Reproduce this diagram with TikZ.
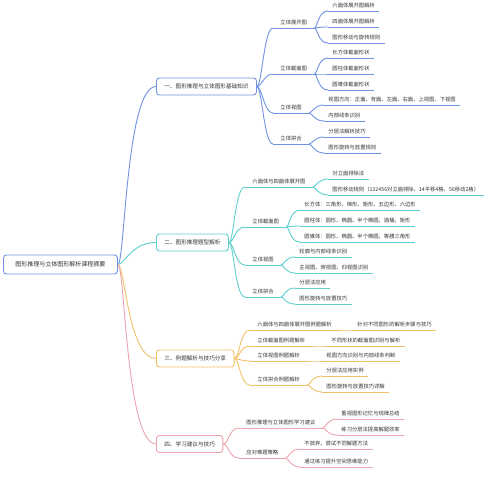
\documentclass[tikz,border=0pt]{standalone}
\usepackage{fontspec}
\setmainfont{Noto Sans CJK SC}
\definecolor{cb}{HTML}{6F93E2}
\definecolor{ct}{HTML}{5CCFCE}
\definecolor{co}{HTML}{F2C065}
\definecolor{cp}{HTML}{EDA3AD}
\definecolor{tx}{HTML}{333333}
\newcommand\mmlink[5]{\draw[#1] (#2) .. controls +(#4,0) and +(-#5,0) .. (#3);}
\begin{document}
\begin{tikzpicture}[x=1pt,y=-1pt,line width=0.9pt,
 rootbox/.style={draw=cb,rounded corners=3pt,fill=white,text=tx,font=\fontsize{6}{7}\selectfont,minimum height=19pt,inner xsep=12pt,inner ysep=0pt},
 secbox/.style={draw=#1,rounded corners=3pt,fill=white,text=tx,font=\fontsize{5.6}{6.5}\selectfont,minimum height=17pt,inner xsep=8pt,inner ysep=0pt},
 kid/.style={anchor=south west,text=tx,font=\fontsize{5.3}{6}\selectfont,inner xsep=7pt,inner ysep=2.2pt},
 gkid/.style={kid,inner xsep=4pt}]
\fill[white] (0,0) rectangle (489,500);
\useasboundingbox (0,0) rectangle (489,500);

% root and sections
\node[rootbox,anchor=west] (root) at (3,264.5) {图形推理与立体图形解析课程摘要};
\node[secbox=cb,anchor=west] (s1) at (156,86.5) {一、图形推理与立体图形基础知识};
\node[secbox=ct,anchor=west] (s2) at (156,242.5) {二、图形推理题型解析};
\node[secbox=co,anchor=west] (s3) at (156,358.5) {三、例题解析与技巧分享};
\node[secbox=cp,anchor=west] (s4) at (156,444) {四、学习建议与技巧};

% section 1
\node[kid] (c11) at (273,28) {立体展开图};
\node[kid] (c12) at (273,74) {立体截面图};
\node[kid] (c13) at (273,113) {立体视图};
\node[kid] (c14) at (273,144) {立体拼合};
\node[gkid] (g111) at (328,11) {六面体展开图解析};
\node[gkid] (g112) at (328,27) {四面体展开图解析};
\node[gkid] (g113) at (328,43) {图形移动与旋转规则};
\node[gkid] (g121) at (328,58) {长方体截面形状};
\node[gkid] (g122) at (328,74) {圆柱体截面形状};
\node[gkid] (g123) at (328,90) {圆锥体截面形状};
\node[gkid] (g131) at (324,105) {视图方向：正面、背面、左面、右面、上视图、下视图};
\node[gkid] (g132) at (324,121) {内部线条识别};
\node[gkid] (g141) at (324,137) {分层法解析技巧};
\node[gkid] (g142) at (324,153) {图形旋转与放置规则};

% section 2
\node[kid] (c21) at (245,187) {六面体与四面体展开图};
\node[kid] (c22) at (245,227) {立体截面图};
\node[kid] (c23) at (245,265) {立体视图};
\node[kid] (c24) at (245,297) {立体拼合};
\node[gkid] (g211) at (328,179) {对立面排除法};
\node[gkid] (g212) at (328,195) {图形移动规则（132456对立面排除、14平移4格、56移动2格）};
\node[gkid] (g221) at (300,210) {长方体：三角形、梯形、矩形、五边形、六边形};
\node[gkid] (g222) at (300,226) {圆柱体：圆形、椭圆、半个椭圆、酒桶、矩形};
\node[gkid] (g223) at (300,242) {圆锥体：圆形、椭圆、半个椭圆、等腰三角形};
\node[gkid] (g231) at (295,257) {轮廓与内部线条识别};
\node[gkid] (g232) at (295,273) {主视图、俯视图、仰视图识别};
\node[gkid] (g241) at (295,288) {分层法应用};
\node[gkid] (g242) at (295,304) {图形旋转与放置技巧};

% section 3
\node[kid] (c31) at (250,330) {六面体与四面体展开图例题解析};
\node[kid] (c32) at (250,346) {立体截面图例题解析};
\node[kid] (c33) at (250,361) {立体视图例题解析};
\node[kid] (c34) at (250,385) {立体拼合例题解析};
\node[gkid] (g311) at (353,330) {针对不同图形的解析步骤与技巧};
\node[gkid] (g321) at (327,346) {不同形状的截面图识别与解析};
\node[gkid] (g331) at (322,361) {视图方向识别与内部线条判断};
\node[gkid] (g341) at (322,376) {分层法应用实例};
\node[gkid] (g342) at (322,392) {图形旋转与放置技巧详解};

% section 4
\node[kid] (c41) at (239,428) {图形推理与立体图形学习建议};
\node[kid] (c42) at (239,458) {应对难题策略};
\node[gkid] (g411) at (337,419) {重视图形记忆与规律总结};
\node[gkid] (g412) at (337,435) {练习分层法提高解题效率};
\node[gkid] (g421) at (300,449) {不放弃，尝试不同解题方法};
\node[gkid] (g422) at (300,467) {通过练习提升空间思维能力};

% underlines
\foreach \n/\c in {c11/cb,c12/cb,c13/cb,c14/cb,g111/cb,g112/cb,g113/cb,g121/cb,g122/cb,g123/cb,g131/cb,g132/cb,g141/cb,g142/cb,
 c21/ct,c22/ct,c23/ct,c24/ct,g211/ct,g212/ct,g221/ct,g222/ct,g223/ct,g231/ct,g232/ct,g241/ct,g242/ct,
 c31/co,c32/co,c33/co,c34/co,g311/co,g321/co,g331/co,g341/co,g342/co,
 c41/cp,c42/cp,g411/cp,g412/cp,g421/cp,g422/cp}
 {\draw[\c] (\n.south west) -- (\n.south east);}

% root links
\mmlink{cb}{root.east}{s1.west}{7}{30}
\mmlink{ct}{root.east}{s2.west}{7}{25}
\mmlink{co}{root.east}{s3.west}{7}{28}
\mmlink{cp}{root.east}{s4.west}{7}{30}

% section links
\foreach \c in {c11,c12,c13,c14} {\mmlink{cb}{s1.east}{\c.south west}{5}{9}}
\foreach \c in {c21,c22,c23,c24} {\mmlink{ct}{s2.east}{\c.south west}{5}{10}}
\foreach \c in {c31,c32,c33,c34} {\mmlink{co}{s3.east}{\c.south west}{5}{10}}
\foreach \c in {c41,c42} {\mmlink{cp}{s4.east}{\c.south west}{5}{10}}

% grandchild links
\foreach \g in {g111,g112,g113} {\mmlink{cb}{c11.south east}{\g.south west}{3}{10}}
\foreach \g in {g121,g122,g123} {\mmlink{cb}{c12.south east}{\g.south west}{3}{10}}
\foreach \g in {g131,g132} {\mmlink{cb}{c13.south east}{\g.south west}{3}{10}}
\foreach \g in {g141,g142} {\mmlink{cb}{c14.south east}{\g.south west}{3}{10}}
\foreach \g in {g211,g212} {\mmlink{ct}{c21.south east}{\g.south west}{3}{10}}
\foreach \g in {g221,g222,g223} {\mmlink{ct}{c22.south east}{\g.south west}{3}{10}}
\foreach \g in {g231,g232} {\mmlink{ct}{c23.south east}{\g.south west}{3}{10}}
\foreach \g in {g241,g242} {\mmlink{ct}{c24.south east}{\g.south west}{3}{10}}
\mmlink{co}{c31.south east}{g311.south west}{3}{3}
\mmlink{co}{c32.south east}{g321.south west}{3}{3}
\mmlink{co}{c33.south east}{g331.south west}{3}{3}
\foreach \g in {g341,g342} {\mmlink{co}{c34.south east}{\g.south west}{3}{10}}
\foreach \g in {g411,g412} {\mmlink{cp}{c41.south east}{\g.south west}{3}{10}}
\foreach \g in {g421,g422} {\mmlink{cp}{c42.south east}{\g.south west}{3}{10}}
\end{tikzpicture}
\end{document}
